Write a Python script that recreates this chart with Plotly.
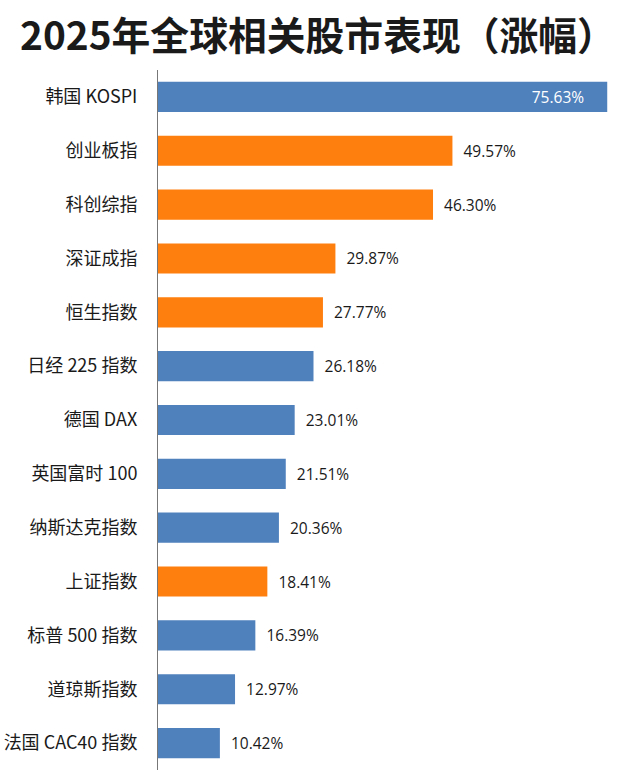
import plotly.graph_objects as go

categories = ["韩国 KOSPI", "创业板指", "科创综指", "深证成指", "恒生指数", "日经 225 指数",
              "德国 DAX", "英国富时 100", "纳斯达克指数", "上证指数", "标普 500 指数",
              "道琼斯指数", "法国 CAC40 指数"]
values = [75.63, 49.57, 46.30, 29.87, 27.77, 26.18, 23.01, 21.51, 20.36, 18.41, 16.39, 12.97, 10.42]
is_china = [False, True, True, True, True, False, False, False, False, True, False, False, False]

BLUE = "#4F81BD"
ORANGE = "#FF7F0E"
NB = "\u00a0"
colors = [ORANGE if c else BLUE for c in is_china]
labels = [f"{v:.2f}%" + NB * 5 if i == 0 else NB * 2 + f"{v:.2f}%" for i, v in enumerate(values)]
positions = ["inside"] + ["outside"] * (len(values) - 1)
text_colors = ["white"] + ["#1a1a1a"] * (len(values) - 1)

fig = go.Figure(go.Bar(
    x=values, y=categories, orientation="h",
    marker=dict(color=colors, line=dict(width=0)),
    width=0.56,
    text=labels, textposition=positions, insidetextanchor="end",
    textfont=dict(family="Open Sans, Noto Sans, sans-serif", size=15.5, color=text_colors),
    cliponaxis=False,
))

fig.update_layout(
    width=625, height=773,
    margin=dict(l=158, r=17, t=70, b=3),
    paper_bgcolor="white", plot_bgcolor="white",
    showlegend=False,
    title=dict(text="<b>2025年全球相关股市表现（涨幅）</b>", x=20 / 625, xref="container", xanchor="left",
               y=1 - 36 / 773, yref="container", yanchor="middle",
               font=dict(family="Noto Sans CJK SC", size=38.8, color="#1a1a1a")),
    xaxis=dict(range=[0, 75.76], visible=False, fixedrange=True),
    yaxis=dict(autorange="reversed", showline=True, linecolor="#777777", linewidth=1,
               ticks="", showgrid=False, ticklabelstandoff=16,
               tickfont=dict(family="Noto Sans CJK SC", size=18, color="#1a1a1a")),
)

fig.write_html("out.html")
